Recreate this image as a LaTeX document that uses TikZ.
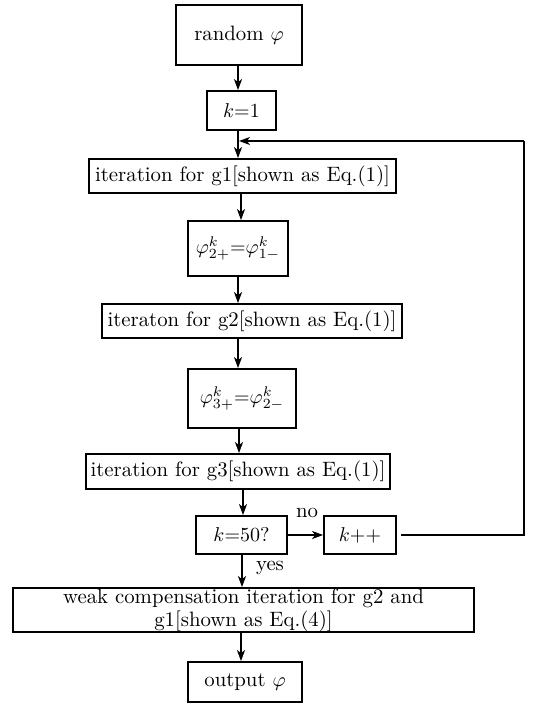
\documentclass[tikz,border=0pt]{standalone}
\usetikzlibrary{arrows.meta}
\begin{document}
\begin{tikzpicture}[x=0.5pt,y=-0.5pt,
  box/.style={draw, line width=0.9pt, inner sep=0pt, font=\fontsize{10.4}{12.5}\selectfont},
  conn/.style={line width=0.75pt},
  arr/.style={conn, -{Stealth[length=5.5pt,width=4pt,inset=1.5pt]}},
  lbl/.style={font=\fontsize{10.4}{12.5}\selectfont, inner sep=0pt}]
\useasboundingbox (0,0) rectangle (538,706);
\node[box, minimum width=63pt, minimum height=30pt] (b1) at (239,35) {random $\varphi$};
\node[box, minimum width=34.5pt, minimum height=19.5pt] (b2) at (241.5,110.5) {$k{=}1$};
\node[box, minimum width=153.5pt, minimum height=17pt] (b3) at (242.5,176) {iteration for g1[shown as Eq.(1)]};
\node[box, minimum width=50pt, minimum height=27.5pt] (b4) at (238,248.5) {$\varphi^{k}_{2+}{=}\varphi^{k}_{1-}$};
\node[box, minimum width=150pt, minimum height=17pt] (b5) at (252,321) {iteraton for g2[shown as Eq.(1)]};
\node[box, minimum width=54pt, minimum height=29.5pt] (b6) at (242,398.5) {$\varphi^{k}_{3+}{=}\varphi^{k}_{2-}$};
\node[box, minimum width=152pt, minimum height=17.5pt] (b7) at (238,471.5) {iteration for g3[shown as Eq.(1)]};
\node[box, minimum width=45.5pt, minimum height=19pt] (b8) at (241.5,535) {$k{=}50?$};
\node[box, minimum width=36pt, minimum height=19pt] (b9) at (360,535) {$k{+}{+}$};
\node[box, minimum width=230.5pt, minimum height=22pt, align=center] (b10) at (243.5,610) {weak compensation iteration for g2 and\\[-1pt] g1[shown as Eq.(4)]};
\node[box, minimum width=57pt, minimum height=20pt] (b11) at (245,682) {output $\varphi$};
\node[lbl] (no) at (307,513) {no};
\node[lbl] (yes) at (270,568) {yes};
\coordinate (c1) at (524,535);
\coordinate (c2) at (524,141);
\coordinate (c3) at (239,141);
\draw[arr] (b1.south -| 238,0) -- (b2.north -| 238,0);
\draw[arr] (b2.south -| 238,0) -- (b3.north -| 238,0);
\draw[arr] (b3.south -| 241,0) -- (b4.north -| 241,0);
\draw[arr] (b4.south -| 238,0) -- (b5.north -| 238,0);
\draw[arr] (b5.south -| 238,0) -- (b6.north -| 238,0);
\draw[arr] (b6.south -| 239,0) -- (b7.north -| 239,0);
\draw[arr] (b7.south -| 243,0) -- (b8.north -| 243,0);
\draw[arr] (b8.east) -- (b9.west);
\draw[arr] (b8.south -| 242,0) -- (b10.north -| 242,0);
\draw[arr] (b10.south -| 241,0) -- (b11.north -| 241,0);
\draw[conn] ([xshift=2pt]b9.east) -- (c1) -- (c2);
\draw[arr] (c2) -- (c3);
\end{tikzpicture}
\end{document}
